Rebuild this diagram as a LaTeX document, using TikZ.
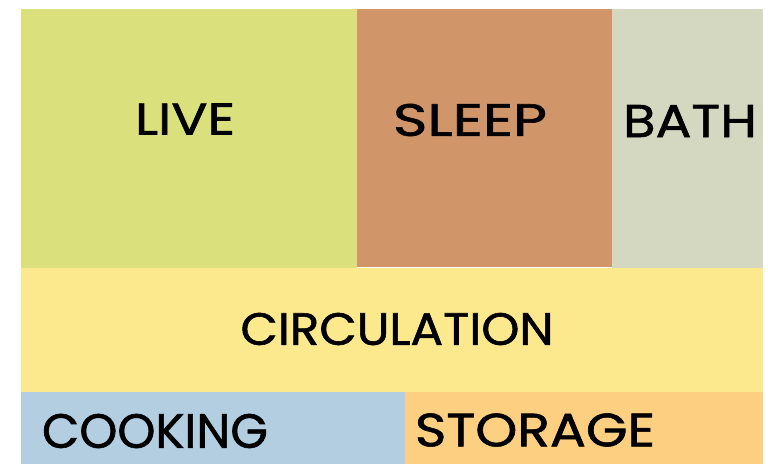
\documentclass[tikz,border=0pt]{standalone}
\usepackage{fontspec}
\newfontfamily\hand[FakeBold=1.2]{Poppins}
\definecolor{livec}{HTML}{DAE07B}
\definecolor{sleepc}{HTML}{D1956A}
\definecolor{bathc}{HTML}{D5D8C1}
\definecolor{circc}{HTML}{FCE98E}
\definecolor{cookc}{HTML}{B3CDE1}
\definecolor{storc}{HTML}{FDD081}
\tikzset{
  lbl/.style={inner sep=0pt, text=black},
}
\newcommand{\roomtext}[3]{\resizebox{#1pt}{#2pt}{\hand #3}}
\begin{document}
\begin{tikzpicture}[x=1pt,y=-1pt]
\useasboundingbox (0,0) rectangle (768,464);
\fill[white] (0,0) rectangle (768,464);
% rooms
\fill[livec] (21,9) coordinate (liveTL) rectangle (357,268) coordinate (liveBR);
\fill[sleepc] (357,9) coordinate (sleepTL) rectangle (612,267) coordinate (sleepBR);
\fill[bathc] (612,9) coordinate (bathTL) rectangle (763,270) coordinate (bathBR);
\fill[circc] (21,268) coordinate (circTL) rectangle (763,392) coordinate (circBR);
\fill[cookc] (21,392) coordinate (cookTL) rectangle (405,464) coordinate (cookBR);
\fill[storc] (405,392) coordinate (storTL) rectangle (763,464) coordinate (storBR);
% labels
\node[lbl] (live) at (185,119) {\roomtext{100}{31}{LIVE}};
\node[lbl] (sleep) at (470,120) {\roomtext{154}{32}{SLEEP}};
\node[lbl] (bath) at (690,121) {\roomtext{134}{32}{BATH}};
\node[lbl] (circ) at (397,329) {\roomtext{313}{32}{CIRCULATION}};
\node[lbl] (cook) at (155,431) {\roomtext{226}{34}{COOKING}};
\node[lbl] (stor) at (535,430) {\roomtext{240}{33}{STORAGE}};
\end{tikzpicture}
\end{document}
